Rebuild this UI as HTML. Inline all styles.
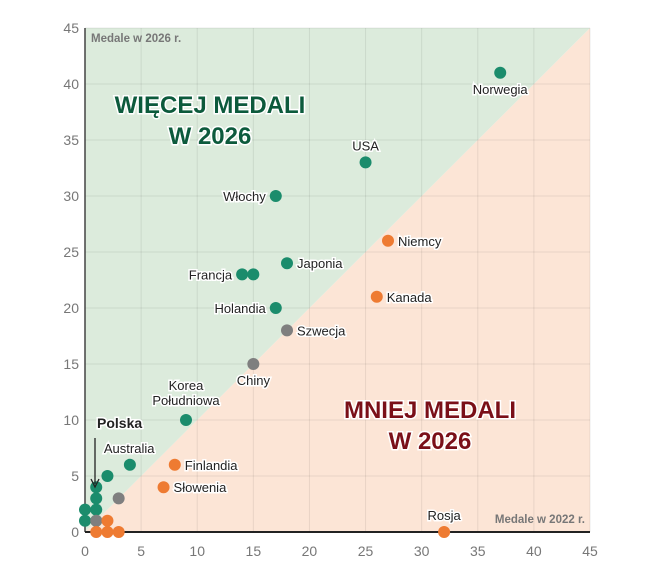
<!DOCTYPE html>
<html><head><meta charset="utf-8"><style>
body{margin:0;background:#fff;font-family:"Liberation Sans",sans-serif}
svg text{font-family:"Liberation Sans",sans-serif}
</style></head><body>
<svg width="660" height="577" viewBox="0 0 660 577">
<g id="grid"></g>
<g id="marks"></g>
</svg>
<script>
const xs=[0,1,0,1,1,1,2,4,9,1,3,15,18,1,2,3,2,8,7,32,26,27,37,25,17,18,14,15,17];
const ys=[1,1,2,2,3,4,5,6,10,1,3,15,18,0,0,0,1,6,4,0,21,26,41,33,30,24,23,23,20];
const kinds=['g','g','g','g','g','g','g','g','g','n','n','n','n','o','o','o','o','o','o','o','o','o','g','g','g','g','g','g','g'];
const ticks=[0,5,10,15,20,25,30,35,40,45];
const labels=[["Norwegia",37,41,"below"],["USA",25,33,"above"],["Włochy",17,30,"left"],["Niemcy",27,26,"right"],["Japonia",18,24,"right"],["Francja",14,23,"left"],["Kanada",26,21,"right"],["Holandia",17,20,"left"],["Szwecja",18,18,"right"],["Chiny",15,15,"below"],["Finlandia",8,6,"right"],["Słowenia",7,4,"right"],["Rosja",32,0,"above"]];
const X=v=>85+v*505/45, Y=v=>532-v*504/45;
const NS="http://www.w3.org/2000/svg";
const svg=document.querySelector('svg'),grid=document.getElementById('grid'),marks=document.getElementById('marks');
function mk(tag,attrs,parent,txt){const e=document.createElementNS(NS,tag);for(const k in attrs)e.setAttribute(k,attrs[k]);if(txt!==undefined)e.textContent=txt;parent.appendChild(e);return e;}
let e;
e=mk('polygon',{points:`${X(0)},${Y(0)} ${X(45)},${Y(0)} ${X(45)},${Y(45)}`,fill:'#fce5d6'},grid);


e=mk('polygon',{points:`${X(0)},${Y(0)} ${X(0)},${Y(45)} ${X(45)},${Y(45)}`,fill:'#dcebdc'},grid);


ticks.forEach(t=>{
 if(t>0){mk('line',{x1:X(t),x2:X(t),y1:Y(0),y2:Y(45),stroke:'#000',"stroke-opacity":0.08},grid);
 mk('line',{x1:X(0),x2:X(45),y1:Y(t),y2:Y(t),stroke:'#000',"stroke-opacity":0.08},grid);}
 e=mk('text',{x:X(t),y:556,"text-anchor":"middle","font-size":14,fill:'#777'},grid,t);
 
 
 e=mk('text',{x:79,y:Y(t)+5,"text-anchor":"end","font-size":14,fill:'#777'},grid,t);
 
 
});
mk('line',{x1:X(0),x2:X(0),y1:Y(0),y2:Y(45),stroke:'#444',"stroke-width":1.5},grid);
mk('line',{x1:X(0),x2:X(45),y1:Y(0),y2:Y(0),stroke:'#222',"stroke-width":2},grid);
e=mk('text',{x:91,y:42,"font-size":11.5,"font-weight":"bold",fill:'#777'},grid,'Medale w 2026 r.');


e=mk('text',{x:585,y:523,"text-anchor":"end","font-size":11.5,"font-weight":"bold",fill:'#777'},grid,'Medale w 2022 r.');


const big=(t,x,y,c,n)=>{e=mk('text',{x:x,y:y,"text-anchor":"middle","font-size":24,"font-weight":"bold",fill:c,stroke:'#fff',"stroke-width":3,"paint-order":"stroke"},grid,t);};
big('WIĘCEJ MEDALI',210,113,'#0c5a3c','more-medals-title');
big('W 2026',210,144,'#0c5a3c','more-medals-title-year');
big('MNIEJ MEDALI',430,418,'#7a0f18','less-medals-title');
big('W 2026',430,449,'#7a0f18','less-medals-title-year');
const col={g:'#1b8c6c',n:'#7f7f7f',o:'#ee7b32'};
xs.forEach((x,i)=>{e=mk('circle',{cx:X(x),cy:Y(ys[i]),r:6,fill:col[kinds[i]]},marks);
 
 });
const lab=(t,x,y,anchor,n,w,fs)=>{e=mk('text',{x:x,y:y,"text-anchor":anchor,"font-size":fs||13,"font-weight":w||"normal",fill:'#222',stroke:'#fff',"stroke-width":3,"paint-order":"stroke"},marks,t);};
labels.forEach(([t,x,y,p])=>{
 let px=X(x),py=Y(y),a='start';
 if(p=='right'){px+=10;py+=5;}else if(p=='left'){px-=10;py+=5;a='end';}
 else if(p=='below'){py+=21;a='middle';}else{py-=12;a='middle';}
 lab(t,px,py,a,'country-label');
});
lab('Korea',X(9),Y(10)-30,'middle','country-label');
lab('Południowa',X(9),Y(10)-15,'middle','country-label');
lab('Australia',X(4)-26,Y(6)-12,'start','country-label');
lab('Polska',97,428,'start','polska-label','bold',14);
e=mk('line',{x1:95,y1:438,x2:95,y2:484,stroke:'#222',"stroke-width":1.3},marks);


mk('path',{d:'M91,479 L95,487 L99,479',fill:'none',stroke:'#222',"stroke-width":1.3},marks);
</script>
</body></html>
